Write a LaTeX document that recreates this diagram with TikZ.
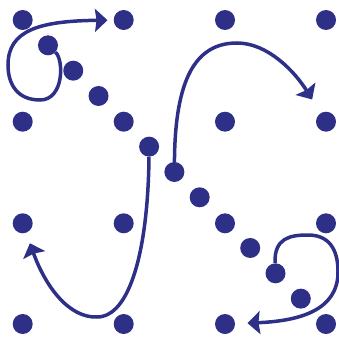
\documentclass[tikz,border=0pt]{standalone}
\usetikzlibrary{arrows.meta}
\definecolor{navy}{RGB}{46,48,136}
\begin{document}
\begin{tikzpicture}[x=1pt,y=-1pt,
  dot/.style={circle,fill=navy,inner sep=0pt,minimum size=20pt},
  link/.style={draw=navy,line width=3.5pt,-{Stealth[length=12.5pt 0 0,width=23pt 0 0,inset=1.5pt 0]}}]
\useasboundingbox (0,0) rectangle (339,337);
% grid dots
\foreach \c/\x in {1/22.7,2/123.7,3/225,4/326}{
  \foreach \r/\y in {1/20,2/121.7,3/223.3,4/324}{
    \node[dot] (g\r\c) at (\x,\y) {};
  }
}
% diagonal dots
\foreach \i in {1,2,3,5,6,7,9,10,11}{
  \node[dot] (d\i) at ({22.7+25.28*\i},{20+25.33*\i}) {};
}
% connectors
\draw[link,shorten >=6pt] (d1) .. controls (64,60) and (64,100) .. (40,100)
  .. controls (18,100) and (8,85) .. (8,65)
  .. controls (8,30) and (40,21) .. (g12);
\draw[link,shorten >=16pt] (d6) .. controls (175,80) and (195,43) .. (237,43)
  .. controls (268,43) and (295,72) .. (g24);
\draw[link,shorten >=11pt] (d5) .. controls (148,250) and (130,317) .. (97,317)
  .. controls (68,318) and (45,285) .. (g31);
\draw[link,shorten >=12.3pt] (d10) .. controls (274,238) and (290,235) .. (308,235)
  .. controls (333,235) and (338,255) .. (338,272)
  .. controls (338,310) and (300,321) .. (g43);
\end{tikzpicture}
\end{document}
